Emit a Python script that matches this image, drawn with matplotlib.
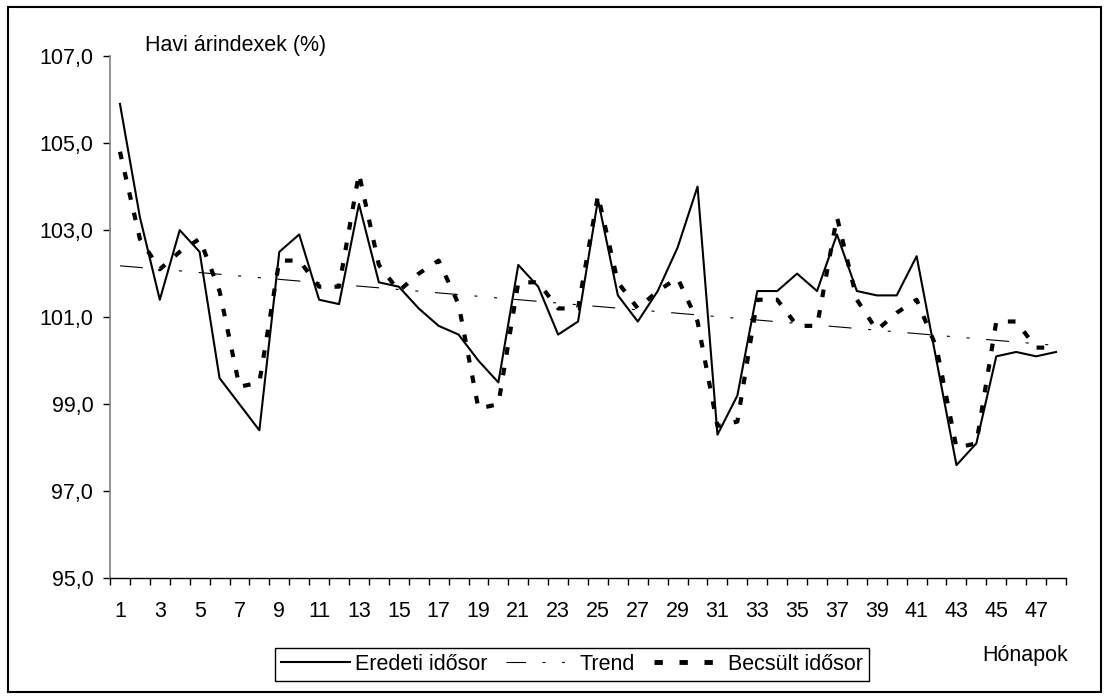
import numpy as np
import matplotlib
matplotlib.use('Agg')
import matplotlib.pyplot as plt
from matplotlib.ticker import FixedLocator, FuncFormatter
from matplotlib.patches import Rectangle
from matplotlib.lines import Line2D

# monthly price indices (%)
months = list(range(1, 49))
eredeti = [105.9, 103.3, 101.4, 103.0, 102.5, 99.6, 99.0, 98.4, 102.5, 102.9,
           101.4, 101.3, 103.6, 101.8, 101.7, 101.2, 100.8, 100.6, 100.0, 99.5,
           102.2, 101.7, 100.6, 100.9, 103.7, 101.5, 100.9, 101.6, 102.6, 104.0,
           98.3, 99.2, 101.6, 101.6, 102.0, 101.6, 102.9, 101.6, 101.5, 101.5,
           102.4, 100.0, 97.6, 98.1, 100.1, 100.2, 100.1, 100.2]
becsult = [104.8, 102.8, 102.1, 102.5, 102.8, 101.6, 99.4, 99.5, 102.3, 102.3,
           101.7, 101.7, 104.3, 102.2, 101.6, 102.0, 102.3, 101.3, 98.9, 99.0,
           101.8, 101.8, 101.2, 101.2, 103.8, 101.8, 101.2, 101.6, 101.9, 100.9,
           98.5, 98.6, 101.4, 101.4, 100.8, 100.8, 103.3, 101.4, 100.7, 101.1,
           101.4, 100.3, 98.0, 98.1, 100.9, 100.9, 100.3, 100.3]
trend_months = [1, 48]
trend_values = [102.18, 100.35]
y_ticks = [95, 97, 99, 101, 103, 105, 107]
labels = ['Eredeti idősor', 'Trend', 'Becsült idősor']

plt.rcParams['font.family'] = ['Liberation Sans', 'DejaVu Sans']
plt.rcParams['font.size'] = 15.5
plt.rcParams['lines.scale_dashes'] = False

trend_ls = (0, (16.5, 12, 2.2, 12, 2.2, 12))
becs_ls = (0, (5.5, 9.5))

W, H = 1109, 699
fig = plt.figure(figsize=(W / 100, H / 100), dpi=100)
ax = fig.add_axes([110 / W, 1 - 578.3 / H, (1066 - 110) / W, (578.3 - 56) / H])

ax.plot(months, eredeti, color='black', lw=1.5)
ax.plot(trend_months, trend_values, color='black', lw=0.8, linestyle=trend_ls)
ax.plot(months, becsult, color='black', lw=3.0, linestyle=becs_ls)

ax.set_xlim(0.5, 48.5)
ax.set_ylim(95, 107)

# x: tick marks between categories, labels on odd months
ax.xaxis.set_major_locator(FixedLocator(np.arange(0.5, 49, 1)))
ax.xaxis.set_major_formatter(FuncFormatter(lambda v, p: ''))
ax.xaxis.set_minor_locator(FixedLocator(months[::2]))
ax.xaxis.set_minor_formatter(FuncFormatter(lambda v, p: '%d' % round(v)))
ax.tick_params(axis='x', which='major', direction='out', length=5, width=1, color='black')
ax.tick_params(axis='x', which='minor', length=0, pad=16)

ax.yaxis.set_major_locator(FixedLocator(y_ticks))
ax.yaxis.set_major_formatter(FuncFormatter(lambda v, p: ('%.1f' % v).replace('.', ',')))
ax.tick_params(axis='y', direction='out', length=5, width=1, color='black', pad=7)

for s in ['top', 'right']:
    ax.spines[s].set_visible(False)
ax.spines['left'].set_color('#808080')
ax.spines['left'].set_linewidth(1.2)
ax.spines['bottom'].set_color('black')
ax.spines['bottom'].set_linewidth(1.0)

fig.text(145 / W, 1 - 45 / H, 'Havi árindexek (%)', ha='left', va='center')
fig.text(1068 / W, 1 - 656 / H, 'Hónapok', ha='right', va='center')

# legend handles drawn a bit like the Excel legend keys
handles = [Line2D([], [], color='black', lw=1.5),
           Line2D([], [], color='black', lw=0.8, linestyle=(0, (14, 12, 2, 12, 2, 20))),
           Line2D([], [], color='black', lw=3.5, linestyle=(0, (6, 12)))]
leg = fig.legend(handles, labels, loc='center', bbox_to_anchor=(572 / W, 1 - 664.5 / H),
                 ncol=3, handlelength=3.2, handletextpad=0.2, columnspacing=0.9,
                 borderpad=0.3, fancybox=False, framealpha=1)
leg.get_frame().set_edgecolor('black')
leg.get_frame().set_linewidth(1.0)

fig.patches.append(Rectangle((8 / W, 7 / H), (1101 - 8) / W, (692 - 7) / H,
                             transform=fig.transFigure, fill=False,
                             edgecolor='black', linewidth=1.5))

fig.savefig('out.png', dpi=100)
